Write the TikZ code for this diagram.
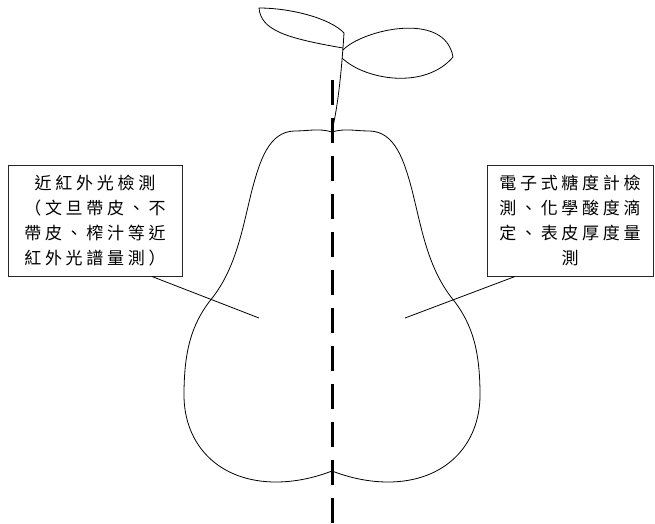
\documentclass[tikz,border=0pt]{standalone}
\usepackage{fontspec}
\newfontfamily\cjk{Noto Sans CJK TC}[LetterSpace=22]
\usetikzlibrary{calc}

\tikzset{
  pearline/.style={draw=black, line width=0.8pt, line join=round},
  infobox/.style={draw=black!85, line width=1pt, rectangle, inner sep=0pt,
    align=center, font=\cjk\fontsize{17pt}{25pt}\selectfont},
  leader/.style={draw=black, line width=0.8pt},
  axisline/.style={draw=black, line width=3pt, dash pattern=on 25pt off 13pt}
}

\begin{document}
\begin{tikzpicture}[x=1pt, y=-1pt]
  \useasboundingbox (0,0) rectangle (655,523);

  % pear body
  \draw[pearline] (332,132)
    .. controls (345,128) and (355,131) .. (370,131)
    .. controls (395,132) and (404,160) .. (412,190)
    .. controls (422,230) and (428,270) .. (455,302)
    .. controls (472,325) and (480,350) .. (480,395)
    .. controls (480,445) and (445,482) .. (388,482)
    .. controls (365,482) and (345,476) .. (332,471)
    .. controls (319,476) and (299,482) .. (276,482)
    .. controls (219,482) and (184,445) .. (184,395)
    .. controls (184,350) and (192,325) .. (209,302)
    .. controls (236,270) and (242,230) .. (252,190)
    .. controls (260,160) and (269,132) .. (294,131)
    .. controls (309,131) and (319,128) .. (332,132);

  % stem
  \draw[pearline] (332,131) .. controls (337,110) and (341,80) .. (344,33);

  % left leaf
  \draw[pearline] (344,33) .. controls (330,18) and (290,8) .. (259,8)
    .. controls (261,30) and (285,38) .. (343,48);

  % right leaf
  \draw[pearline] (343,50) .. controls (362,30) and (445,10) .. (453,57)
    .. controls (425,90) and (365,80) .. (342,58);

  % cutting axis
  \coordinate (axtop) at (332,80);
  \coordinate (axbot) at (332,523);
  \draw[axisline] (axtop) -- (axbot);

  % label boxes
  \node[infobox, minimum width=174pt, minimum height=111pt] (leftbox) at (95,220.5)
    {近紅外光檢測\\（文旦帶皮、不\\帶皮、榨汁等近\\紅外光譜量測）};
  \node[infobox, minimum width=166pt, minimum height=111pt] (rightbox) at (570,220.5)
    {電子式糖度計檢\\測、化學酸度滴\\定、表皮厚度量\\測};

  % leader lines into the fruit
  \coordinate (lefttip) at (259,318);
  \coordinate (righttip) at (405,318);
  \draw[leader] ([xshift=57pt]leftbox.south) -- (lefttip);
  \draw[leader] ([xshift=-55pt]rightbox.south) -- (righttip);
\end{tikzpicture}
\end{document}
